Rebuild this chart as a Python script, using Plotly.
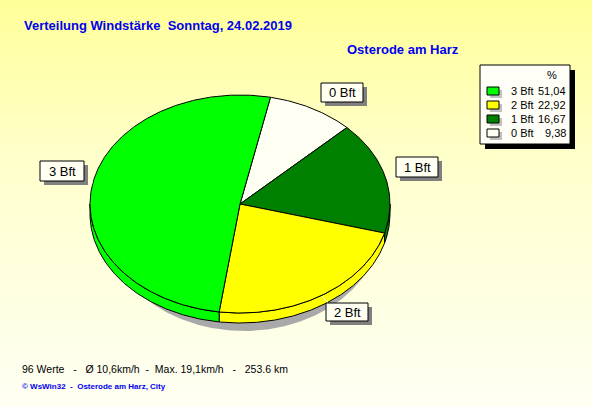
import numpy as np
import plotly.graph_objects as go

W, H = 592, 407

# data
labels = ["0 Bft", "1 Bft", "2 Bft", "3 Bft"]
percent = [9.38, 16.67, 22.92, 51.04]
colors = ["#FFFFF4", "#008000", "#FFFF00", "#00FF00"]

title_text = "Verteilung Windstärke  Sonntag, 24.02.2019"
station = "Osterode am Harz"
stats_text = "96 Werte   -   Ø 10,6km/h  -  Max. 19,1km/h   -   253.6 km"
credit_text = "© WsWin32  -  Osterode am Harz, City"

# pie geometry in pixel coords
CX, CY, RX, RY, DEPTH = 240, 204, 150, 109, 10
START = 78.3

# label boxes: (x0, y0, x1, y1) and leader line end on the pie
label_boxes = {
    "0 Bft": ((321, 83, 363, 102), (321, 102), (314, 108)),
    "1 Bft": ((396, 157, 438, 177), (396, 175), (387, 178)),
    "2 Bft": ((326, 303, 368, 321), (328, 303), (322, 296)),
    "3 Bft": ((40, 161, 84, 181), (84, 178), (93, 183)),
}

FONT = "Arial, Liberation Sans, sans-serif"
BLUE = "#0000F0"
nb = lambda s: s.replace(" ", "\u00a0")


def arc(a0, a1, dy=0.0, dx=0.0, rx=RX):
    n = max(int(abs(a1 - a0)) * 2, 3)
    t = np.radians(np.linspace(a0, a1, n))
    return CX + dx + rx * np.cos(t), CY + dy - RY * np.sin(t)


fig = go.Figure()

# background gradient
fig.add_trace(go.Scatter(
    x=[0, W, W, 0, 0], y=[0, 0, H, H, 0], mode="lines", fill="toself",
    line=dict(width=0), hoverinfo="skip",
    fillgradient=dict(type="vertical", start=0, stop=H,
                      colorscale=[[0, "#FFFF99"], [0.4, "#FFFFCC"], [1, "#FFFFF4"]]),
))

# shadow
sx, sy = arc(0, 360, dy=DEPTH + 8, dx=4, rx=RX - 12)
fig.add_trace(go.Scatter(x=sx, y=sy, mode="lines", fill="toself",
                         fillcolor="#A9A9A9", line=dict(width=0), hoverinfo="skip"))

# slice angles
angles = []
a = START
for v in percent:
    angles.append((a, a - v * 3.6))
    a -= v * 3.6

# sides (front half only)
for (a0, a1), col in zip(angles, colors):
    hi, lo = a0, a1
    for shift in (0, -360):
        s_lo, s_hi = max(lo, -180 + shift), min(hi, 0 + shift)
        if s_hi - s_lo <= 0:
            continue
        tx, ty = arc(s_lo, s_hi)
        bx, by = arc(s_hi, s_lo, dy=DEPTH)
        fig.add_trace(go.Scatter(
            x=np.concatenate([tx, bx, tx[:1]]), y=np.concatenate([ty, by, ty[:1]]),
            mode="lines", fill="toself", fillcolor=col,
            line=dict(color="black", width=1), hoverinfo="skip"))

# top faces
for (a0, a1), col, lab, v in zip(angles, colors, labels, percent):
    ax, ay = arc(a0, a1)
    fig.add_trace(go.Scatter(
        x=np.concatenate([[CX], ax, [CX]]), y=np.concatenate([[CY], ay, [CY]]),
        mode="lines", fill="toself", fillcolor=col,
        line=dict(color="black", width=1), name=lab,
        hoveron="fills", text=f"{lab}: {v:.2f} %", hoverinfo="text"))

shapes = []
annotations = []

# slice labels
for lab, ((x0, y0, x1, y1), p0, p1) in label_boxes.items():
    shapes.append(dict(type="line", x0=p0[0], y0=p0[1], x1=p1[0], y1=p1[1],
                       line=dict(color="white", width=1)))
    shapes.append(dict(type="rect", x0=x0 + 4, y0=y0 + 4, x1=x1 + 4, y1=y1 + 4,
                       fillcolor="#808080", line=dict(width=0)))
    shapes.append(dict(type="rect", x0=x0, y0=y0, x1=x1, y1=y1,
                       fillcolor="#FFFFF2", line=dict(color="black", width=1)))
    annotations.append(dict(x=(x0 + x1) / 2, y=(y0 + y1) / 2, text=nb(lab),
                            showarrow=False, font=dict(family=FONT, size=13, color="black")))

# legend box
LX0, LY0, LX1, LY1 = 480, 65, 570, 144
shapes.append(dict(type="rect", x0=LX0 + 5, y0=LY0 + 5, x1=LX1 + 5, y1=LY1 + 5,
                   fillcolor="black", line=dict(width=0)))
shapes.append(dict(type="rect", x0=LX0, y0=LY0, x1=LX1, y1=LY1,
                   fillcolor="#FFFFF8", line=dict(color="black", width=1)))
annotations.append(dict(x=552, y=75, text="%", showarrow=False,
                        font=dict(family=FONT, size=11, color="black")))
for i, idx in enumerate([3, 2, 1, 0]):
    yy = 91 + i * 14
    shapes.append(dict(type="rect", x0=490, y0=yy - 1, x1=502, y1=yy + 7,
                       fillcolor="#C0C0C0", line=dict(width=0)))
    shapes.append(dict(type="rect", x0=487, y0=yy - 4, x1=499, y1=yy + 4,
                       fillcolor=colors[idx], line=dict(color="black", width=1)))
    annotations.append(dict(x=509, y=yy, text=nb(labels[idx]), xanchor="left",
                            showarrow=False, font=dict(family=FONT, size=11, color="black")))
    annotations.append(dict(x=568, y=yy, text=f"{percent[idx]:.2f}".replace(".", ","),
                            xanchor="right", showarrow=False,
                            font=dict(family=FONT, size=11, color="black")))

# titles and footer
annotations += [
    dict(x=22, y=25, text=f"<b>{nb(title_text)}</b>", xanchor="left", showarrow=False,
         font=dict(family=FONT, size=13, color=BLUE)),
    dict(x=345, y=49, text=f"<b>{station}</b>", xanchor="left", showarrow=False,
         font=dict(family=FONT, size=13, color=BLUE)),
    dict(x=20, y=369, text=nb(stats_text), xanchor="left", showarrow=False,
         font=dict(family=FONT, size=10.5, color="black")),
    dict(x=20, y=386, text=f"<b>{nb(credit_text)}</b>", xanchor="left", showarrow=False,
         font=dict(family=FONT, size=8, color=BLUE)),
]

fig.update_layout(
    width=W, height=H, margin=dict(l=0, r=0, t=0, b=0),
    paper_bgcolor="#FFFFF4", plot_bgcolor="#FFFFF4", showlegend=False,
    shapes=shapes, annotations=annotations, dragmode=False,
    xaxis=dict(range=[0, W], visible=False, fixedrange=True),
    yaxis=dict(range=[H, 0], visible=False, fixedrange=True),
)

# remove the default page margin so the figure fills the window
fig.write_html("out.html", config={"displayModeBar": False},
               post_script="document.body.style.margin='0';document.body.style.overflow='hidden';")
